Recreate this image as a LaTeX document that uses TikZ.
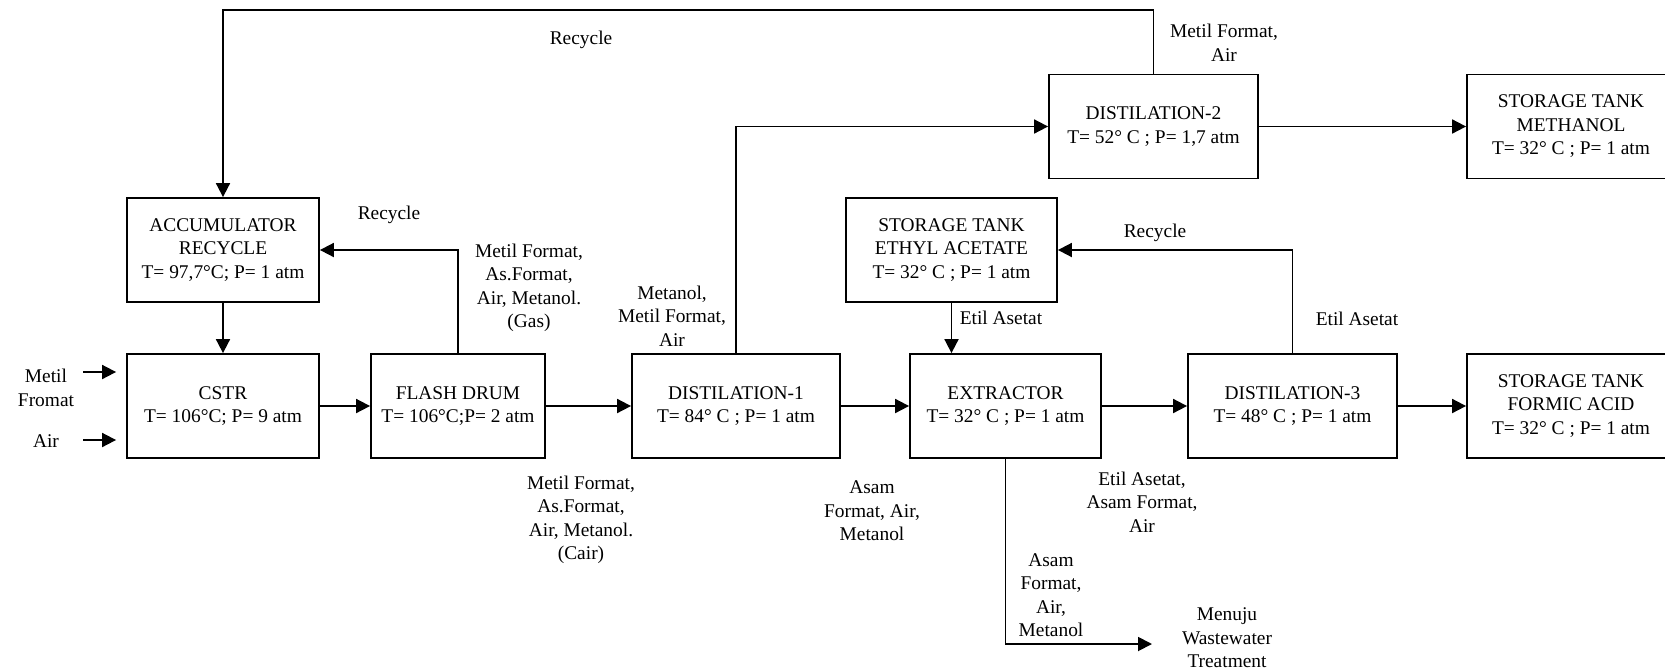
\documentclass[tikz,border=0pt]{standalone}
\usepackage{fontspec}
\setmainfont{Liberation Serif}
\usetikzlibrary{arrows.meta}

\begin{document}
\begin{tikzpicture}[x=0.5pt, y=-0.5pt,
	unit/.style={draw=black, line width=0.9pt, align=center, inner sep=0pt,
		minimum height=52pt, font=\fontsize{9.7}{11.75}\selectfont},
	txt/.style={align=center, inner sep=0pt, font=\fontsize{9.7}{11.75}\selectfont},
	flow/.style={line width=0.9pt, -{Triangle[length=7pt, width=7pt]}},
	pipe/.style={line width=0.9pt}]
	\useasboundingbox (0, 0) rectangle (1665, 670);

	% Units
	\node[unit, minimum width=96pt] (acc) at (223, 250) {ACCUMULATOR\\RECYCLE\\T= 97,7°C; P= 1 atm};
	\node[unit, minimum width=96pt] (cstr) at (223, 406) {CSTR\\T= 106°C; P= 9 atm};
	\node[unit, minimum width=87pt] (flash) at (458, 406) {FLASH DRUM\\T= 106°C;P= 2 atm};
	\node[unit, minimum width=104pt] (dist1) at (736, 406) {DISTILATION-1\\T= 84° C ; P= 1 atm};
	\node[unit, minimum width=95.5pt] (extr) at (1005.5, 406) {EXTRACTOR\\T= 32° C ; P= 1 atm};
	\node[unit, minimum width=104.5pt] (dist3) at (1292.5, 406) {DISTILATION-3\\T= 48° C ; P= 1 atm};
	\node[unit, minimum width=104pt] (formic) at (1571, 406) {STORAGE TANK\\FORMIC ACID\\T= 32° C ; P= 1 atm};
	\node[unit, minimum width=104.5pt] (dist2) at (1153.5, 126.5) {DISTILATION-2\\T= 52° C ; P= 1,7 atm};
	\node[unit, minimum width=104pt] (methanol) at (1571, 126.5) {STORAGE TANK\\METHANOL\\T= 32° C ; P= 1 atm};
	\node[unit, minimum width=105.5pt] (ethyl) at (951.5, 250) {STORAGE TANK\\ETHYL ACETATE\\T= 32° C ; P= 1 atm};

	% Feed
	\node[txt] (feedmf) at (46, 388) {Metil\\Fromat};
	\node[txt] (feedair) at (46, 441) {Air};
	\coordinate (inmf) at (83, 372);
	\coordinate (inair) at (83, 440);
	\draw[flow, shorten >=5pt] (inmf) -- (cstr.west |- inmf);
	\draw[flow, shorten >=5pt] (inair) -- (cstr.west |- inair);

	% Main line
	\draw[flow] (acc) -- (cstr);
	\draw[flow] (cstr) -- (flash);
	\draw[flow] (flash) -- (dist1);
	\draw[flow] (dist1) -- (extr);
	\draw[flow] (extr) -- (dist3);
	\draw[flow] (dist3) -- (formic);
	\draw[flow] (dist2) -- (methanol);

	% Recycle lines
	\coordinate (toprec) at (1155, 10);
	\draw[flow] (dist2.north) -- (dist2.north |- toprec) -| (acc.north);
	\draw[flow] (flash.north) |- (acc.east);
	\draw[flow] (dist1.north) |- (dist2.west);
	\draw[flow] (dist3.north) |- (ethyl.east);
	\draw[flow] (ethyl.south) -- (ethyl.south |- extr.north);

	% Waste
	\coordinate (waste) at (1152, 644);
	\draw[flow] (extr.south) |- (waste);

	% Stream labels
	\node[txt] (rectop) at (581, 40) {Recycle};
	\node[txt] (recleft) at (389, 215) {Recycle};
	\node[txt] (recright) at (1155, 233) {Recycle};
	\node[txt] (topmf) at (1224, 43) {Metil Format,\\Air};
	\node[txt] (gas) at (529, 288) {Metil Format,\\As.Format,\\Air, Metanol.\\(Gas)};
	\node[txt] (topd1) at (672, 316) {Metanol,\\Metil Format,\\Air};
	\node[txt] (cair) at (581, 520) {Metil Format,\\As.Format,\\Air, Metanol.\\(Cair)};
	\node[txt] (botd1) at (872, 511) {Asam\\Format, Air,\\Metanol};
	\node[txt] (etila) at (1001, 318) {Etil Asetat};
	\node[txt] (etilb) at (1357, 319) {Etil Asetat};
	\node[txt] (botex) at (1142, 502) {Etil Asetat,\\Asam Format,\\Air};
	\node[txt] (botwaste) at (1051, 595) {Asam\\Format,\\Air,\\Metanol};
	\node[txt] (wastelbl) at (1227, 638) {Menuju\\Wastewater\\Treatment};
\end{tikzpicture}
\end{document}
